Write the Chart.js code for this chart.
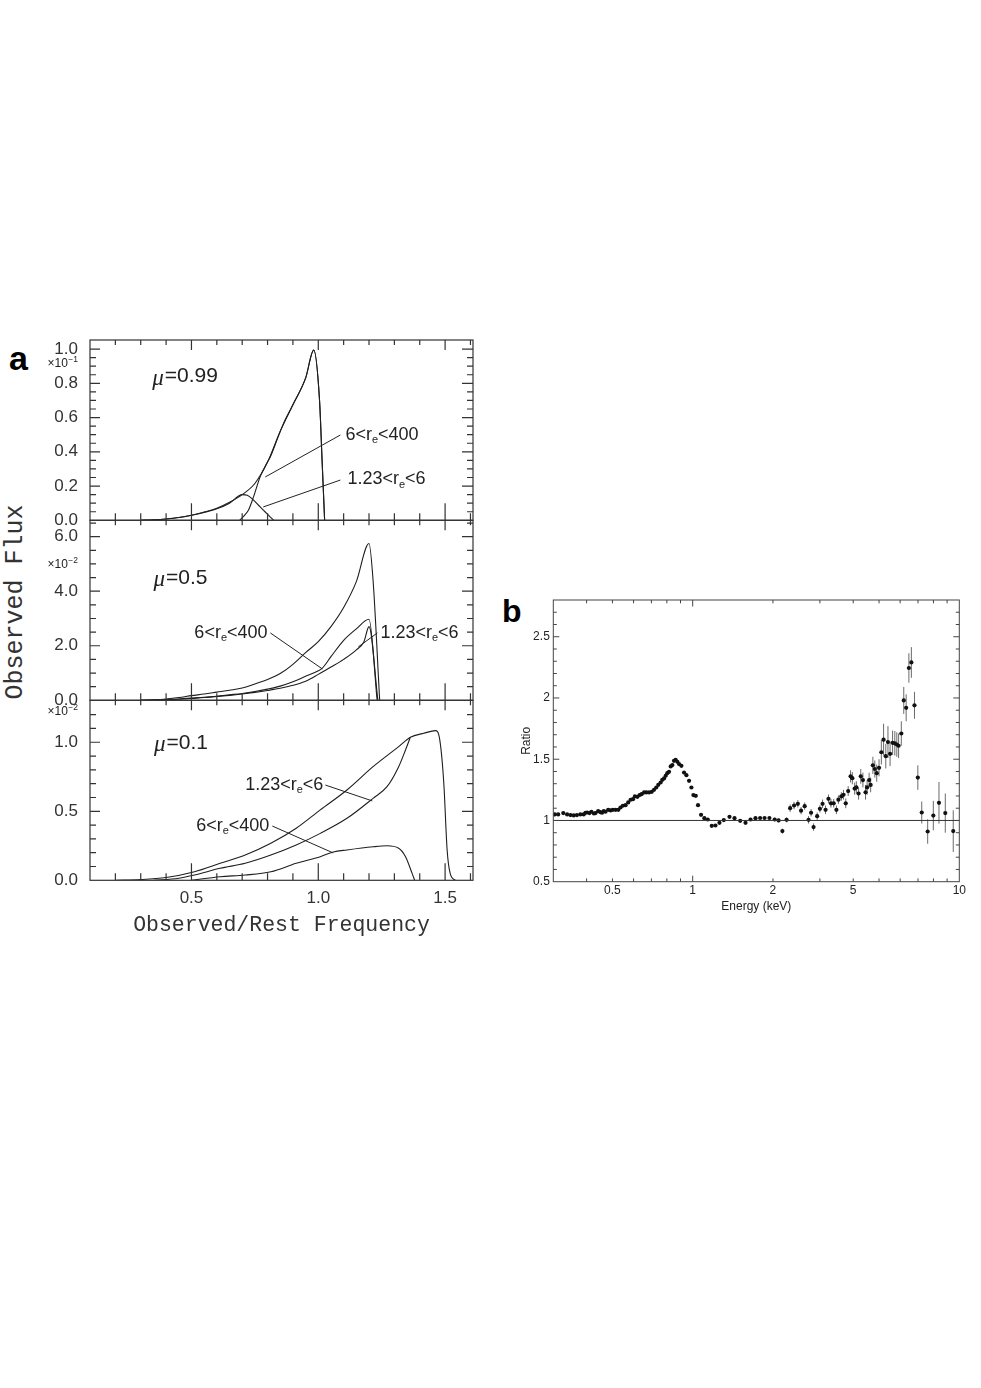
<!DOCTYPE html>
<html>
<head>
<meta charset="utf-8">
<title>Line profiles (a) and spectral ratio (b)</title>
<script src="https://cdn.jsdelivr.net/npm/chart.js@4.4.1/dist/chart.umd.min.js"></script>
<style>
  html, body { margin:0; padding:0; background:#fff; }
  body { width:981px; height:1388px; position:relative; overflow:hidden; }
  canvas { position:absolute; }
  .panel-letter { position:absolute; font-family:'Liberation Sans', Arial, sans-serif; font-weight:bold; line-height:1; color:#000; }
  #yTitleA { position:absolute; left:15px; top:602px; transform:translate(-50%,-50%) rotate(-90deg);
             font-family:'Liberation Mono', 'DejaVu Sans Mono', monospace; font-size:25px; color:#333;
             white-space:nowrap; line-height:1; }
</style>
</head>
<body>
<div class="panel-letter" style="left:9px;top:341px;font-size:34px;">a</div>
<div class="panel-letter" style="left:502px;top:595px;font-size:32px;">b</div>
<div id="yTitleA">Observed Flux</div>
<canvas id="a1" style="left:0;top:310px" width="490" height="240"></canvas>
<canvas id="a2" style="left:0;top:490px" width="490" height="240"></canvas>
<canvas id="a3" style="left:0;top:670px" width="490" height="280"></canvas>
<canvas id="b"  style="left:500px;top:570px" width="481" height="360"></canvas>
<script>
// ================= DATA =================
// ---- Panel a : x = observed / rest frequency ----
const freqMajorTicks = [0.5, 1.0, 1.5];

// mu = 0.99  (flux in units of 1e-1)
const mu099TotalX = [0.30, 0.35, 0.40, 0.45, 0.50, 0.55, 0.60, 0.65, 0.70, 0.75, 0.80, 0.85, 0.90, 0.95, 0.982, 1.005, 1.015, 1.025];
const mu099TotalY = [0.000, 0.003, 0.008, 0.016, 0.030, 0.048, 0.070, 0.105, 0.150, 0.215, 0.340, 0.520, 0.675, 0.830, 0.994, 0.700, 0.350, 0.000];
const mu099InnerX = [0.30, 0.35, 0.40, 0.45, 0.50, 0.55, 0.60, 0.65, 0.70, 0.72, 0.745, 0.77, 0.79, 0.81, 0.825];   // 1.23<r_e<6
const mu099InnerY = [0.000, 0.003, 0.008, 0.016, 0.029, 0.046, 0.067, 0.100, 0.150, 0.146, 0.118, 0.080, 0.050, 0.020, 0.000];
const mu099OuterX = [0.69, 0.71, 0.725, 0.745, 0.771, 0.797, 0.811, 0.837, 0.863, 0.90, 0.95, 0.982, 1.005, 1.015, 1.025]; // 6<r_e<400
const mu099OuterY = [0.000, 0.030, 0.060, 0.138, 0.255, 0.333, 0.371, 0.469, 0.566, 0.675, 0.830, 0.994, 0.700, 0.350, 0.000];

// mu = 0.5  (flux in units of 1e-2)
const mu05TotalX = [0.30, 0.35, 0.40, 0.45, 0.50, 0.55, 0.60, 0.65, 0.70, 0.75, 0.80, 0.85, 0.90, 0.95, 1.00, 1.05, 1.10, 1.15, 1.20, 1.216, 1.242];
const mu05TotalY = [0.00, 0.02, 0.05, 0.10, 0.17, 0.23, 0.30, 0.37, 0.45, 0.60, 0.76, 0.98, 1.32, 1.75, 2.15, 2.70, 3.40, 4.35, 5.75, 4.40, 0.00];
const mu05OuterX = [0.30, 0.35, 0.40, 0.45, 0.50, 0.55, 0.60, 0.65, 0.70, 0.75, 0.80, 0.85, 0.90, 0.95, 1.00, 1.015, 1.05, 1.10, 1.15, 1.20, 1.232]; // 6<r_e<400
const mu05OuterY = [0.00, 0.01, 0.03, 0.05, 0.08, 0.11, 0.15, 0.20, 0.25, 0.32, 0.41, 0.52, 0.68, 0.88, 1.08, 1.17, 1.60, 2.20, 2.62, 2.97, 0.00];
const mu05InnerX = [0.30, 0.35, 0.40, 0.45, 0.50, 0.55, 0.60, 0.65, 0.70, 0.75, 0.80, 0.85, 0.90, 0.95, 1.00, 1.05, 1.10, 1.15, 1.18, 1.20, 1.235]; // 1.23<r_e<6
const mu05InnerY = [0.00, 0.01, 0.02, 0.04, 0.07, 0.10, 0.14, 0.18, 0.23, 0.29, 0.36, 0.44, 0.55, 0.70, 0.95, 1.22, 1.50, 1.85, 2.15, 2.70, 0.00];

// mu = 0.1  (flux in units of 1e-2)
const mu01TotalX = [0.20, 0.30, 0.40, 0.512, 0.613, 0.712, 0.813, 0.913, 1.008, 1.113, 1.216, 1.317, 1.363, 1.416, 1.462, 1.479, 1.495, 1.508, 1.52, 1.54];
const mu01TotalY = [0.000, 0.005, 0.020, 0.062, 0.123, 0.183, 0.268, 0.377, 0.510, 0.654, 0.823, 0.968, 1.036, 1.065, 1.084, 1.017, 0.700, 0.220, 0.050, 0.000];
const mu01InnerX = [0.35, 0.45, 0.512, 0.613, 0.712, 0.813, 0.913, 1.008, 1.113, 1.216, 1.271, 1.317, 1.344, 1.363]; // 1.23<r_e<6
const mu01InnerY = [0.000, 0.015, 0.038, 0.087, 0.123, 0.183, 0.256, 0.340, 0.449, 0.594, 0.678, 0.823, 0.944, 1.036];
const mu01OuterX = [0.50, 0.613, 0.712, 0.813, 0.913, 1.008, 1.059, 1.113, 1.216, 1.271, 1.317, 1.344, 1.37, 1.38]; // 6<r_e<400
const mu01OuterY = [0.000, 0.026, 0.038, 0.062, 0.123, 0.171, 0.205, 0.220, 0.243, 0.250, 0.232, 0.171, 0.050, 0.000];

// ---- Panel b : ratio vs energy ----
const energyKeV = [
  0.304,0.313,0.327,0.338,0.348,0.358,0.368,0.379,0.390,0.396,
  0.402,0.410,0.417,0.426,0.432,0.442,0.451,0.457,0.464,0.471,
  0.482,0.492,0.502,0.514,0.526,0.536,0.547,0.560,0.573,0.585,
  0.597,0.607,0.620,0.632,0.643,0.657,0.670,0.686,0.702,0.716,
  0.730,0.743,0.758,0.769,0.781,0.792,0.803,0.815,0.827,0.839,
  0.851,0.863,0.876,0.889,0.907,0.928,0.947,0.969,0.989,1.006,
  1.027,1.047,1.075,1.106,1.139,1.179,1.217,1.260,1.308,1.374,
  1.435,1.507,1.578,1.648,1.720,1.790,1.860,1.940,
  2.03,2.10,2.17,2.25,2.32,2.40,2.48,2.55,2.63,2.72,2.78,2.84,2.93,3.00,3.07,3.15,3.23,3.30,3.38,3.46,3.52,
  3.61,3.68,3.75,3.83,3.91,3.97,4.05,4.11,4.19,4.27,4.35,4.45,4.51,4.59,4.65,4.74,4.82,4.90,5.00,
  5.10,5.20,5.30,5.40,5.50,5.62,5.73,5.83,5.92,
  6.06,6.19,6.32,6.47,6.61,6.79,6.99,7.23,7.61,7.99,8.39,8.86,9.49
];
const ratio = [
  1.049,1.049,1.060,1.049,1.044,1.041,1.044,1.049,1.049,1.063,
  1.065,1.060,1.071,1.057,1.060,1.076,1.068,1.063,1.076,1.071,
  1.087,1.082,1.087,1.087,1.087,1.106,1.120,1.125,1.147,1.169,
  1.174,1.196,1.193,1.207,1.215,1.229,1.229,1.229,1.234,1.250,
  1.269,1.291,1.310,1.332,1.343,1.365,1.386,1.397,1.441,1.452,
  1.487,1.495,1.479,1.460,1.446,1.391,1.370,1.324,1.269,1.207,
  1.201,1.125,1.046,1.019,1.008,0.956,0.959,0.981,1.003,1.030,
  1.019,0.997,0.981,1.008,1.019,1.020,1.020,1.020,
  1.008,1.000,0.913,1.005,1.100,1.122,1.136,1.080,1.117,1.005,1.063,0.946,1.035,1.095,1.136,1.087,1.177,1.140,1.140,1.087,1.170,
  1.196,1.210,1.140,1.240,1.360,1.345,1.260,1.270,1.220,1.360,1.330,1.230,1.270,1.330,1.290,1.450,1.420,1.386,1.430,
  1.557,1.660,1.525,1.640,1.544,1.634,1.630,1.620,1.610,
  1.710,1.980,1.920,2.245,2.290,1.940,1.350,1.065,0.910,1.040,1.144,1.060,0.913
];
const ratioErr = [
  0.008,0.008,0.008,0.008,0.008,0.008,0.008,0.008,0.008,0.008,
  0.008,0.008,0.008,0.008,0.008,0.008,0.008,0.008,0.008,0.008,
  0.008,0.008,0.008,0.008,0.008,0.008,0.008,0.008,0.008,0.008,
  0.008,0.008,0.008,0.008,0.008,0.008,0.008,0.008,0.008,0.008,
  0.008,0.008,0.008,0.008,0.008,0.008,0.008,0.008,0.008,0.008,
  0.008,0.008,0.008,0.008,0.008,0.008,0.008,0.008,0.008,0.008,
  0.008,0.008,0.008,0.008,0.008,0.008,0.008,0.008,0.008,0.008,
  0.008,0.008,0.008,0.008,0.008,0.008,0.008,0.008,
  0.015,0.015,0.020,0.020,0.030,0.030,0.030,0.030,0.030,0.030,0.030,0.030,0.030,0.030,0.035,0.035,0.035,0.035,0.035,0.035,0.035,
  0.035,0.040,0.040,0.040,0.050,0.050,0.050,0.050,0.050,0.060,0.060,0.060,0.060,0.060,0.060,0.070,0.070,0.070,0.070,
  0.100,0.130,0.100,0.130,0.100,0.100,0.100,0.100,0.100,
  0.100,0.110,0.110,0.120,0.125,0.110,0.100,0.090,0.100,0.120,0.170,0.160,0.170
];
const unityLineX = [0.3, 10];
const unityLineY = [1, 1];
const energyTickValues = [0.3,0.4,0.5,0.6,0.7,0.8,0.9,1,2,3,4,5,6,7,8,9,10];
const energyMajorTicks = [1, 10];
// label text per tick value, as printed in the reference figure
const energyTickLabels = {0.5:'0.5', 1:'1', 2:'2', 4:'5', 10:'10'};
const ratioMajorTicks = [0.5, 1, 1.5, 2, 2.5];

// ================= HELPERS =================
const SANS = "'Liberation Sans', Arial, sans-serif";
const MONO = "'Liberation Mono', 'DejaVu Sans Mono', monospace";

function steps(lo, hi, st) {
  const out = [];
  for (let k = 0; lo + k * st <= hi + 1e-9; k++) out.push(+(lo + k * st).toFixed(6));
  return out;
}
function isIn(list, v) { return list.some(m => Math.abs(m - v) < 1e-6); }
function pts(xs, ys) { return xs.map((x, i) => ({x: x, y: ys[i]})); }

function drawRich(ctx, text, x, y, align, size, color) {
  const segs = [];
  for (let i = 0; i < text.length; i++) {
    if (text[i] === '_' && i + 1 < text.length) { segs.push({t: text[i + 1], sub: true}); i++; }
    else if (segs.length && !segs[segs.length - 1].sub) segs[segs.length - 1].t += text[i];
    else segs.push({t: text[i], sub: false});
  }
  const fontFor = s => (s.sub ? Math.round(size * 0.6) : size) + 'px ' + SANS;
  let w = 0;
  segs.forEach(s => { ctx.font = fontFor(s); s.w = ctx.measureText(s.t).width; w += s.w; });
  let cx = align === 'right' ? x - w : (align === 'center' ? x - w / 2 : x);
  ctx.fillStyle = color; ctx.textBaseline = 'middle'; ctx.textAlign = 'left';
  segs.forEach(s => { ctx.font = fontFor(s); ctx.fillText(s.t, cx, s.sub ? y + size * 0.3 : y); cx += s.w; });
}

function framePlugin(key, cfg) {
  return {
    id: 'frame_' + key,
    afterDatasetsDraw(chart) {
      const {ctx, chartArea: a} = chart;
      const xs = chart.scales.x, ys = chart.scales.y;
      ctx.save();
      ctx.strokeStyle = cfg.color; ctx.lineWidth = cfg.lw;
      ctx.strokeRect(a.left, a.top, a.right - a.left, a.bottom - a.top);
      ctx.beginPath();
      cfg.xTicks.forEach(v => {
        const p = xs.getPixelForValue(v);
        if (p <= a.left + 1 || p >= a.right - 1) return;
        const maj = isIn(cfg.xMajor, v);
        const lb = maj ? cfg.xBottom[1] : cfg.xBottom[0];
        const lt = maj ? cfg.xTop[1] : cfg.xTop[0];
        ctx.moveTo(p, a.bottom); ctx.lineTo(p, a.bottom - lb);
        ctx.moveTo(p, a.top); ctx.lineTo(p, a.top + lt);
      });
      cfg.yTicks.forEach(v => {
        const p = ys.getPixelForValue(v);
        if (p <= a.top + 1 || p >= a.bottom - 1) return;
        const maj = isIn(cfg.yMajor, v);
        const ll = maj ? cfg.yLeft[1] : cfg.yLeft[0];
        const lr = maj ? cfg.yRight[1] : cfg.yRight[0];
        ctx.moveTo(a.left, p); ctx.lineTo(a.left + ll, p);
        ctx.moveTo(a.right, p); ctx.lineTo(a.right - lr, p);
      });
      ctx.stroke();
      ctx.restore();
    }
  };
}

function annotPlugin(key, cfg) {
  return {
    id: 'annot_' + key,
    afterDatasetsDraw(chart) {
      const {ctx, chartArea: a} = chart;
      const xs = chart.scales.x, ys = chart.scales.y;
      ctx.save();
      ctx.strokeStyle = '#222'; ctx.lineWidth = 1;
      cfg.notes.forEach(n => {
        ctx.beginPath();
        ctx.moveTo(xs.getPixelForValue(n.line[0]), ys.getPixelForValue(n.line[1]));
        ctx.lineTo(xs.getPixelForValue(n.line[2]), ys.getPixelForValue(n.line[3]));
        ctx.stroke();
        drawRich(ctx, n.text, xs.getPixelForValue(n.x), ys.getPixelForValue(n.y), n.align, 18, '#222');
      });
      // mu label: Greek letter italic, rest upright
      const mx = xs.getPixelForValue(cfg.mu.x), my = ys.getPixelForValue(cfg.mu.y);
      ctx.textBaseline = 'middle'; ctx.textAlign = 'left'; ctx.fillStyle = '#222';
      ctx.font = 'italic 23px ' + "'Liberation Serif', 'DejaVu Serif', serif";
      ctx.fillText(cfg.mu.text[0], mx, my + 2);
      const w0 = ctx.measureText(cfg.mu.text[0]).width;
      ctx.font = '21px ' + SANS;
      ctx.fillText(cfg.mu.text.slice(1), mx + w0 + 1, my);
      // axis multiplier label  x10^n
      const ey = ys.getPixelForValue(cfg.expo.y);
      ctx.font = '8.5px ' + SANS;
      const sw = ctx.measureText(cfg.expo.sup).width;
      const right = a.left - 12;
      ctx.textAlign = 'left';
      ctx.fillText(cfg.expo.sup, right - sw, ey - 4);
      ctx.font = '12px ' + SANS;
      const bw = ctx.measureText(cfg.expo.base).width;
      ctx.fillText(cfg.expo.base, right - sw - bw - 0.5, ey);
      ctx.restore();
    }
  };
}

const lineStyle = {borderColor: '#1e1e1e', borderWidth: 1.1, pointRadius: 0, showLine: true, fill: false,
                   cubicInterpolationMode: 'monotone'};

function makePanelA(id, p) {
  const showX = !!p.showX;
  return new Chart(document.getElementById(id), {
    type: 'scatter',
    data: { datasets: p.series.map(s => Object.assign({label: s.label, data: pts(s.x, s.y)}, lineStyle)) },
    options: {
      responsive: false, animation: false, devicePixelRatio: 1,
      layout: { padding: p.padding },
      plugins: { legend: {display: false}, tooltip: {enabled: false} },
      scales: {
        x: {
          type: 'linear', min: 0.1, max: 1.61, display: showX,
          grid: {display: false, drawTicks: false}, border: {display: false},
          afterBuildTicks: s => { s.ticks = freqMajorTicks.map(v => ({value: v})); },
          ticks: { callback: v => Number(v).toFixed(1), font: {family: SANS, size: 17}, color: '#333',
                   padding: 7.5, maxRotation: 0, autoSkip: false },
          title: { display: showX, text: 'Observed/Rest Frequency', font: {family: MONO, size: 21.5},
                   color: '#333', padding: {top: 0, bottom: 12} },
          afterFit: s => { if (showX) s.height = p.xHeight; }
        },
        y: {
          type: 'linear', min: 0, max: p.yMax,
          grid: {display: false, drawTicks: false}, border: {display: false},
          afterBuildTicks: s => { s.ticks = p.yMajor.map(v => ({value: v})); },
          ticks: { callback: v => Number(v).toFixed(1), font: {family: SANS, size: 17}, color: '#333',
                   padding: 12, autoSkip: false },
          afterFit: s => { s.width = 90; }
        }
      }
    },
    plugins: [
      framePlugin(id, { color: '#333', lw: 1.2,
        xTicks: steps(0.2, 1.6, 0.1), xMajor: freqMajorTicks, xBottom: [7, 17], xTop: [5, 10],
        yTicks: steps(0, p.yMax, p.yMinorStep), yMajor: p.yMajor, yLeft: [6, 10], yRight: [6, 11] }),
      annotPlugin(id, { notes: p.notes, mu: p.mu, expo: p.expo })
    ]
  });
}

// ================= PANEL a =================
// chart areas: a1 340–520.3, a2 520.3–700.3, a3 700.3–880.3 (page px)
makePanelA('a1', {
  padding: {left: 0, right: 17, top: 30, bottom: 29.7},
  yMax: 1.053, yMajor: [0, 0.2, 0.4, 0.6, 0.8, 1.0], yMinorStep: 0.05,
  series: [
    {label: 'total', x: mu099TotalX, y: mu099TotalY},
    {label: '1.23<re<6', x: mu099InnerX, y: mu099InnerY},
    {label: '6<re<400', x: mu099OuterX, y: mu099OuterY}
  ],
  notes: [
    {text: '6<r_e<400', x: 1.107, y: 0.50, align: 'left', line: [1.087, 0.498, 0.791, 0.253]},
    {text: '1.23<r_e<6', x: 1.115, y: 0.24, align: 'left', line: [1.087, 0.235, 0.783, 0.078]}
  ],
  mu: {text: 'μ=0.99', x: 0.345, y: 0.84},
  expo: {base: '×10', sup: '−1', y: 0.912}
});

makePanelA('a2', {
  padding: {left: 0, right: 17, top: 30.3, bottom: 29.7},
  yMax: 6.6, yMajor: [0, 2, 4, 6], yMinorStep: 0.5,
  series: [
    {label: 'total', x: mu05TotalX, y: mu05TotalY},
    {label: '6<re<400', x: mu05OuterX, y: mu05OuterY},
    {label: '1.23<re<6', x: mu05InnerX, y: mu05InnerY}
  ],
  notes: [
    {text: '6<r_e<400', x: 0.80, y: 2.47, align: 'right', line: [0.811, 2.47, 1.016, 1.15]},
    {text: '1.23<r_e<6', x: 1.245, y: 2.47, align: 'left', line: [1.233, 2.47, 1.158, 1.96]}
  ],
  mu: {text: 'μ=0.5', x: 0.35, y: 4.49},
  expo: {base: '×10', sup: '−2', y: 4.96}
});

makePanelA('a3', {
  showX: true, xHeight: 69.7,
  padding: {left: 0, right: 17, top: 30.3, bottom: 0},
  yMax: 1.304, yMajor: [0, 0.5, 1.0], yMinorStep: 0.1,
  series: [
    {label: 'total', x: mu01TotalX, y: mu01TotalY},
    {label: '1.23<re<6', x: mu01InnerX, y: mu01InnerY},
    {label: '6<re<400', x: mu01OuterX, y: mu01OuterY}
  ],
  notes: [
    {text: '1.23<r_e<6', x: 1.02, y: 0.69, align: 'right', line: [1.028, 0.69, 1.213, 0.575]},
    {text: '6<r_e<400', x: 0.807, y: 0.393, align: 'right', line: [0.819, 0.393, 1.059, 0.198]}
  ],
  mu: {text: 'μ=0.1', x: 0.352, y: 0.995},
  expo: {base: '×10', sup: '−2', y: 1.22}
});

// ================= PANEL b =================
const errorBarPlugin = {
  id: 'errbars',
  beforeDatasetsDraw(chart) {
    const {ctx} = chart;
    const xs = chart.scales.x, ys = chart.scales.y;
    ctx.save();
    ctx.strokeStyle = '#6a6a6a'; ctx.lineWidth = 1;
    ctx.beginPath();
    energyKeV.forEach((e, i) => {
      const px = xs.getPixelForValue(e);
      ctx.moveTo(px, ys.getPixelForValue(ratio[i] - ratioErr[i]));
      ctx.lineTo(px, ys.getPixelForValue(ratio[i] + ratioErr[i]));
    });
    ctx.stroke();
    ctx.restore();
  }
};

// chart area 553.3–959.3 x 600–881.7 (page px)
new Chart(document.getElementById('b'), {
  type: 'scatter',
  data: {
    datasets: [
      {label: 'unity', data: pts(unityLineX, unityLineY), showLine: true, borderColor: '#333', borderWidth: 1, pointRadius: 0},
      {label: 'ratio', data: pts(energyKeV, ratio), showLine: false, pointRadius: 2.1,
       pointBackgroundColor: '#111', pointBorderWidth: 0, pointBorderColor: '#111'}
    ]
  },
  options: {
    responsive: false, animation: false, devicePixelRatio: 1,
    layout: { padding: {left: 0, right: 21.7, top: 30, bottom: 0} },
    plugins: { legend: {display: false}, tooltip: {enabled: false} },
    scales: {
      x: {
        type: 'logarithmic', min: 0.3, max: 10,
        grid: {display: false, drawTicks: false}, border: {display: false},
        afterBuildTicks: s => { s.ticks = Object.keys(energyTickLabels).map(k => ({value: +k})); },
        ticks: { callback: v => energyTickLabels[v] !== undefined ? energyTickLabels[v] : '',
                 font: {family: SANS, size: 12}, color: '#222', padding: 2, maxRotation: 0, autoSkip: false },
        title: { display: true, text: 'Energy (keV)', font: {family: SANS, size: 12}, color: '#222',
                 padding: {top: 0, bottom: 16} },
        afterFit: s => { s.height = 48.3; }
      },
      y: {
        type: 'linear', min: 0.5, max: 2.8,
        grid: {display: false, drawTicks: false}, border: {display: false},
        afterBuildTicks: s => { s.ticks = ratioMajorTicks.map(v => ({value: v})); },
        ticks: { callback: v => String(v), font: {family: SANS, size: 12}, color: '#222', padding: 3.5, autoSkip: false },
        title: { display: true, text: 'Ratio', font: {family: SANS, size: 12}, color: '#222',
                 padding: {top: 19.5, bottom: 0} },
        afterFit: s => { s.width = 53.3; }
      }
    }
  },
  plugins: [
    errorBarPlugin,
    framePlugin('b', { color: '#444', lw: 1,
      xTicks: energyTickValues, xMajor: energyMajorTicks, xBottom: [3.3, 6], xTop: [3.3, 6.5],
      yTicks: steps(0.5, 2.8, 0.1), yMajor: ratioMajorTicks, yLeft: [3.5, 6], yRight: [3.5, 6] })
  ]
});
</script>
</body>
</html>
